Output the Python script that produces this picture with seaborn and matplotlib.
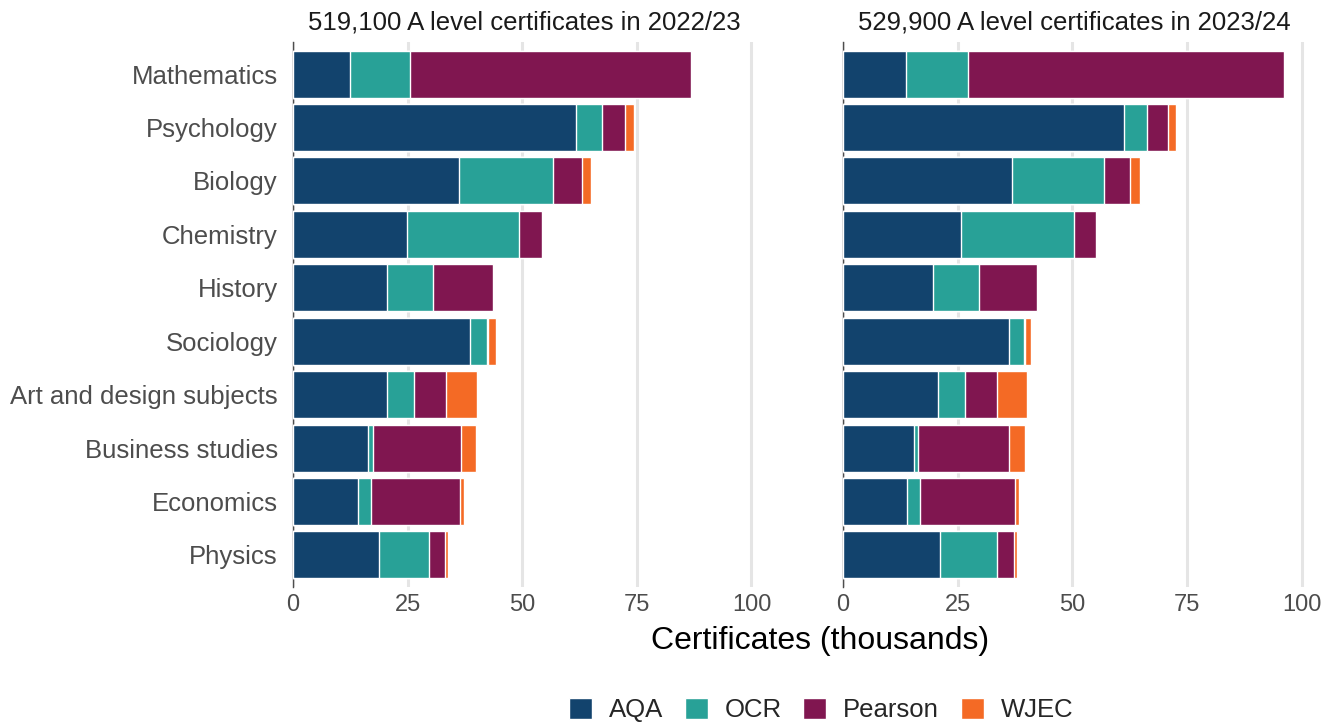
import numpy as np
import pandas as pd
import seaborn as sns
import matplotlib.pyplot as plt
from matplotlib.patches import Patch

subjects = ["Mathematics", "Psychology", "Biology", "Chemistry", "History",
            "Sociology", "Art and design subjects", "Business studies",
            "Economics", "Physics"]
boards = ["AQA", "OCR", "Pearson", "WJEC"]
colours = ["#12436D", "#28A197", "#801650", "#F46A25"]

# thousands of certificates, 2022/23
aqa_2223 = [12.5, 61.8, 36.1, 24.8, 20.4, 38.6, 20.6, 16.4, 14.2, 18.7]
ocr_2223 = [13.1, 5.7, 20.5, 24.5, 10.2, 3.7, 5.7, 1.1, 2.8, 11.0]
pearson_2223 = [61.1, 4.9, 6.4, 4.9, 13.0, 0.2, 7.1, 19.1, 19.5, 3.5]
wjec_2223 = [0.0, 2.0, 2.0, 0.0, 0.0, 1.8, 6.8, 3.3, 0.8, 0.5]

# thousands of certificates, 2023/24
aqa_2324 = [13.8, 61.2, 36.8, 25.7, 19.6, 36.1, 20.7, 15.4, 14.0, 21.1]
ocr_2324 = [13.5, 5.0, 20.1, 24.7, 10.0, 3.3, 5.9, 1.0, 2.7, 12.4]
pearson_2324 = [68.8, 4.6, 5.8, 4.8, 12.8, 0.2, 7.0, 19.8, 20.9, 3.8]
wjec_2324 = [0.0, 1.9, 2.1, 0.0, 0.0, 1.4, 6.6, 3.6, 0.8, 0.6]

titles = ["519,100 A level certificates in 2022/23",
          "529,900 A level certificates in 2023/24"]
xticks = [0, 25, 50, 75, 100]

sns.set_theme(style="white")
plt.rcParams["font.family"] = ["Liberation Sans", "DejaVu Sans"]

fig = plt.figure(figsize=(13.36, 7.23), dpi=100)
W, H = 1336, 723
ax_w = 101 * 4.585
axes = [fig.add_axes([293 / W, (723 - 587) / H, ax_w / W, 545 / H]),
        fig.add_axes([843 / W, (723 - 587) / H, ax_w / W, 545 / H])]

years = [[aqa_2223, ocr_2223, pearson_2223, wjec_2223],
         [aqa_2324, ocr_2324, pearson_2324, wjec_2324]]

for i, (ax, series) in enumerate(zip(axes, years)):
    df = pd.DataFrame(np.array(series).T, columns=boards)
    df["subject"] = subjects
    cum = df[boards].cumsum(axis=1)
    # draw from the outermost cumulative total inwards
    for b, col in reversed(list(zip(boards, colours))):
        sns.barplot(x=cum[b], y=df["subject"], orient="h", color=col,
                    saturation=1, width=0.88, edgecolor="white",
                    linewidth=1.0, ax=ax, zorder=3)
    ax.set_xlim(0, 101)
    ax.set_ylim(9.6, -0.6)
    ax.set_xticks(xticks)
    ax.set_xticklabels([str(t) for t in xticks], fontsize=17, color="#4d4d4d")
    ax.xaxis.grid(True, color="#e5e5e5", linewidth=2.2, zorder=0)
    ax.yaxis.grid(False)
    ax.set_axisbelow(True)
    for s in ["top", "right", "bottom"]:
        ax.spines[s].set_visible(False)
    ax.spines["left"].set_color("#4d4d4d")
    ax.spines["left"].set_linewidth(1.0)
    ax.tick_params(axis="x", length=0, pad=5)
    ax.tick_params(axis="y", length=0, pad=11)
    ax.set_xlabel("")
    ax.set_ylabel("")
    ax.set_title(titles[i], fontsize=18.5, color="#1a1a1a", pad=9)
    if i == 0:
        ax.set_yticks(range(len(subjects)))
        ax.set_yticklabels(subjects, fontsize=18.5, color="#4d4d4d")
    else:
        ax.set_yticklabels([])

fig.text(820 / W, 1 - 641 / H, "Certificates (thousands)", ha="center",
         va="center", fontsize=23, color="black")

handles = [Patch(facecolor=c, edgecolor="white", label=b)
           for b, c in zip(boards, colours)]
fig.legend(handles=handles, loc="center", ncol=4,
           bbox_to_anchor=(821 / W, 1 - 710 / H), frameon=False,
           fontsize=18.5, handlelength=0.9, handleheight=0.9,
           handletextpad=0.65, columnspacing=0.85)

fig.savefig("out.png", dpi=100)
